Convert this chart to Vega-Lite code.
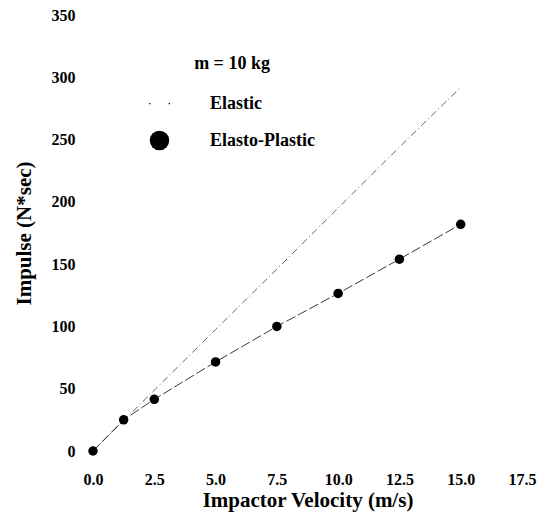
{
  "$schema": "https://vega.github.io/schema/vega-lite/v6.json",
  "width": 429,
  "height": 436,
  "autosize": "none",
  "padding": {"left": 93, "top": 15, "right": 17, "bottom": 63},
  "background": "white",
  "config": {
    "view": {"stroke": null},
    "font": "Liberation Serif",
    "axis": {
      "domain": false,
      "ticks": false,
      "tickSize": 0,
      "grid": false,
      "labelFont": "Liberation Serif",
      "labelFontWeight": "bold",
      "labelFontSize": 16,
      "labelColor": "black",
      "titleFont": "Liberation Serif",
      "titleFontWeight": "bold",
      "titleFontSize": 21,
      "titleColor": "black"
    }
  },
  "data": {
    "values": [
      {"series": "Elastic", "velocity": 0, "impulse": 0},
      {"series": "Elastic", "velocity": 1.25, "impulse": 24.4},
      {"series": "Elastic", "velocity": 2.5, "impulse": 48.8},
      {"series": "Elastic", "velocity": 5, "impulse": 97.5},
      {"series": "Elastic", "velocity": 7.5, "impulse": 146},
      {"series": "Elastic", "velocity": 10, "impulse": 195},
      {"series": "Elastic", "velocity": 12.5, "impulse": 244},
      {"series": "Elastic", "velocity": 15, "impulse": 292},
      {"series": "Elasto-Plastic", "velocity": 0, "impulse": 0},
      {"series": "Elasto-Plastic", "velocity": 1.25, "impulse": 25},
      {"series": "Elasto-Plastic", "velocity": 2.5, "impulse": 41.5},
      {"series": "Elasto-Plastic", "velocity": 5, "impulse": 71.5},
      {"series": "Elasto-Plastic", "velocity": 7.5, "impulse": 100},
      {"series": "Elasto-Plastic", "velocity": 10, "impulse": 126.5},
      {"series": "Elasto-Plastic", "velocity": 12.5, "impulse": 154},
      {"series": "Elasto-Plastic", "velocity": 15, "impulse": 182}
    ]
  },
  "encoding": {
    "x": {
      "field": "velocity",
      "type": "quantitative",
      "scale": {"domain": [0, 17.5], "nice": false, "zero": false},
      "axis": {
        "title": "Impactor Velocity (m/s)",
        "values": [0, 2.5, 5, 7.5, 10, 12.5, 15, 17.5],
        "format": ".1f",
        "labelPadding": 20,
        "titlePadding": 2,
        "labelFlush": false,
        "labelOverlap": false
      }
    },
    "y": {
      "field": "impulse",
      "type": "quantitative",
      "scale": {"domain": [0, 350], "nice": false},
      "axis": {
        "title": "Impulse (N*sec)",
        "values": [0, 50, 100, 150, 200, 250, 300, 350],
        "labelPadding": 18,
        "titlePadding": 17,
        "labelFlush": false,
        "labelOverlap": false
      }
    }
  },
  "layer": [
    {
      "transform": [{"filter": "datum.series === 'Elastic'"}],
      "mark": {"type": "line", "strokeWidth": 0.9, "color": "#555555", "strokeDash": [7, 3, 1, 3]}
    },
    {
      "transform": [{"filter": "datum.series === 'Elasto-Plastic'"}],
      "mark": {"type": "line", "strokeWidth": 0.9, "color": "#222222", "strokeDash": [10, 3]}
    },
    {
      "transform": [{"filter": "datum.series === 'Elasto-Plastic'"}],
      "mark": {"type": "point", "filled": true, "size": 90, "color": "black", "opacity": 1},
      "encoding": {
        "shape": {
          "field": "series",
          "type": "nominal",
          "scale": {
            "domain": ["Elastic", "Elasto-Plastic"],
            "range": ["M-1.06,-0.06h0.13v0.13h-0.13z M0.94,-0.06h0.13v0.13h-0.13z", "circle"]
          },
          "legend": {
            "title": "m = 10 kg",
            "orient": "none",
            "legendX": 56,
            "legendY": 40,
            "padding": 0,
            "symbolSize": 380,
            "symbolFillColor": "black",
            "symbolOpacity": 1,
            "labelOffset": 40,
            "labelFont": "Liberation Serif",
            "labelFontWeight": "bold",
            "labelFontSize": 18,
            "labelColor": "black",
            "titleFont": "Liberation Serif",
            "titleFontWeight": "bold",
            "titleFontSize": 18,
            "titleColor": "black",
            "titleAnchor": "middle",
            "titlePadding": 20,
            "rowPadding": 14,
            "labelLimit": 300,
            "titleLimit": 300
          }
        }
      }
    }
  ]
}
